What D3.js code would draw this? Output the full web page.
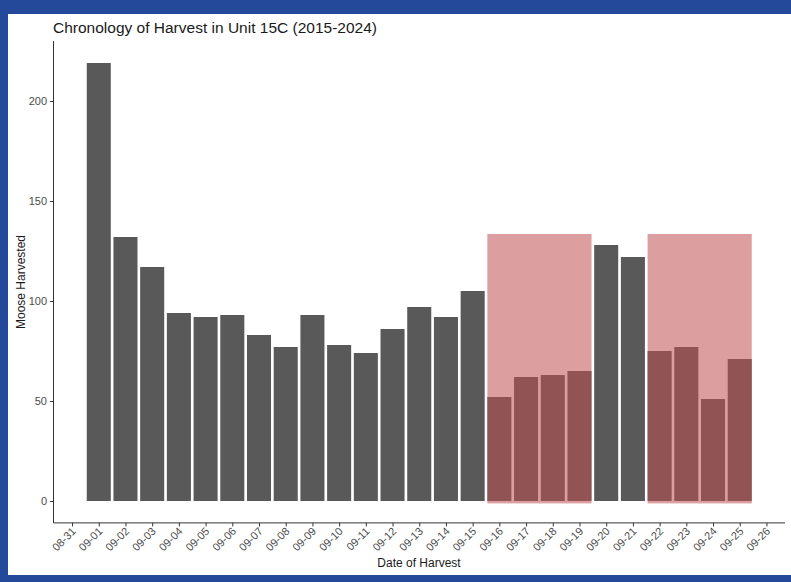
<!DOCTYPE html>
<html>
<head>
<meta charset="utf-8">
<script src="https://cdn.jsdelivr.net/npm/d3@7"></script>
<style>
  html, body { margin: 0; padding: 0; background: #24499b; }
  svg { display: block; }
</style>
</head>
<body>
<script>
// ---- data ----
const dates = ["09-01","09-02","09-03","09-04","09-05","09-06","09-07","09-08","09-09","09-10","09-11","09-12","09-13","09-14","09-15","09-16","09-17","09-18","09-19","09-20","09-21","09-22","09-23","09-24","09-25"];
const harvest = [219,132,117,94,92,93,83,77,93,78,74,86,97,92,105,52,62,63,65,128,122,75,77,51,71];
const tickLabels = ["08-31","09-01","09-02","09-03","09-04","09-05","09-06","09-07","09-08","09-09","09-10","09-11","09-12","09-13","09-14","09-15","09-16","09-17","09-18","09-19","09-20","09-21","09-22","09-23","09-24","09-25","09-26"];
const yTicks = [0,50,100,150,200];
const shadeStart = ["09-16","09-22"];
const shadeEnd = ["09-19","09-25"];
const shadeTop = 133.5;

const W = 791, H = 582;
const svg = d3.select("body").append("svg").attr("width", W).attr("height", H);
svg.append("rect").attr("x", 0).attr("y", 0).attr("width", W).attr("height", H).attr("fill", "#24499b");
svg.append("rect").attr("x", 8).attr("y", 14).attr("width", W - 8).attr("height", 575 - 14).attr("fill", "#ffffff");

const dayIndex = d => tickLabels.indexOf(d);
const x = d3.scaleLinear().domain([-0.695, 26.695]).range([53.5, 785]);
const y = d3.scaleLinear().domain([-10.95, 229.95]).range([522.9, 41.1]);
const bw = x(0.9) - x(0);

// bars
svg.append("g").selectAll("rect").data(dates).join("rect")
  .attr("x", d => x(dayIndex(d) - 0.45))
  .attr("width", bw)
  .attr("y", (d, i) => y(harvest[i]))
  .attr("height", (d, i) => y(0) - y(harvest[i]))
  .attr("fill", "#595959");

// shading
svg.append("g").selectAll("rect").data(shadeStart).join("rect")
  .attr("x", d => x(dayIndex(d) - 0.45))
  .attr("width", (d, i) => x(dayIndex(shadeEnd[i]) + 0.45) - x(dayIndex(d) - 0.45))
  .attr("y", y(shadeTop))
  .attr("height", y(-1.2) - y(shadeTop))
  .attr("fill", "rgb(192,78,78)")
  .attr("fill-opacity", 0.55);

// axes
const axisColor = "#333333";
const labelColor = "#4d4d4d";
const font = "Liberation Sans, Arial, sans-serif";

const yAxis = svg.append("g").attr("transform", "translate(53.5,0)")
  .call(d3.axisLeft(y).tickValues(yTicks).tickSize(3.5).tickPadding(3).tickSizeOuter(0));
yAxis.select(".domain").attr("stroke", axisColor).attr("d", `M0,${y.range()[0]}V${y.range()[1]}`);
yAxis.selectAll(".tick line").attr("stroke", axisColor);
yAxis.selectAll(".tick text").attr("fill", labelColor).style("font-family", font).style("font-size", "11px");

const xAxis = svg.append("g").attr("transform", "translate(0,522.9)")
  .call(d3.axisBottom(x).tickValues(d3.range(tickLabels.length)).tickFormat(i => tickLabels[i]).tickSize(3.5).tickSizeOuter(0));
xAxis.select(".domain").attr("stroke", axisColor).attr("d", `M${x.range()[0]},0H${x.range()[1]}`);
xAxis.selectAll(".tick line").attr("stroke", axisColor);
xAxis.selectAll(".tick text")
  .attr("fill", labelColor)
  .style("font-family", font).style("font-size", "11px")
  .attr("text-anchor", "end")
  .attr("dy", null)
  .attr("y", 0)
  .attr("transform", "translate(4,9) rotate(-45)");

// titles
svg.append("text").attr("x", 53).attr("y", 33)
  .style("font-family", font).style("font-size", "15.5px").attr("fill", "#1a1a1a")
  .text("Chronology of Harvest in Unit 15C (2015-2024)");
svg.append("text").attr("x", 419).attr("y", 567).attr("text-anchor", "middle")
  .style("font-family", font).style("font-size", "12px").attr("fill", "#1a1a1a")
  .text("Date of Harvest");
svg.append("text").attr("transform", `translate(25,${(y.range()[0] + y.range()[1]) / 2}) rotate(-90)`)
  .attr("text-anchor", "middle")
  .style("font-family", font).style("font-size", "12px").attr("fill", "#1a1a1a")
  .text("Moose Harvested");
</script>
</body>
</html>
